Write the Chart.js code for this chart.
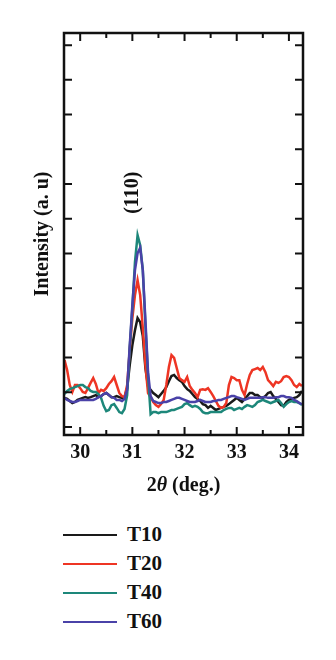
<!DOCTYPE html>
<html>
<head>
<meta charset="utf-8">
<script src="https://cdn.jsdelivr.net/npm/chart.js@4.4.1/dist/chart.umd.min.js"></script>
<style>
  html, body { margin: 0; padding: 0; background: #fff; }
  #wrap { position: relative; width: 336px; height: 660px; }
  #legend { position: absolute; left: 63px; top: 520px; font: bold 21px "Liberation Serif", serif; color: #111; }
  .item { display: flex; align-items: center; height: 29px; }
  .swatch { width: 54px; height: 2px; margin-right: 10px; }
</style>
</head>
<body>
<div id="wrap">
  <canvas id="xrd" width="336" height="505"></canvas>
  <div id="legend"></div>
</div>
<script>
// 2θ positions (deg.)
const angles = [
  29.70, 29.75, 29.80, 29.85, 29.90, 29.95, 30.00, 30.05, 30.10, 30.15,
  30.20, 30.25, 30.30, 30.35, 30.40, 30.45, 30.50, 30.55, 30.60, 30.65,
  30.70, 30.75, 30.80, 30.85, 30.90, 30.95, 31.00, 31.05, 31.10, 31.15,
  31.20, 31.25, 31.30, 31.35, 31.40, 31.45, 31.50, 31.55, 31.60, 31.65,
  31.70, 31.75, 31.80, 31.85, 31.90, 31.95, 32.00, 32.05, 32.10, 32.15,
  32.20, 32.25, 32.30, 32.35, 32.40, 32.45, 32.50, 32.55, 32.60, 32.65,
  32.70, 32.75, 32.80, 32.85, 32.90, 32.95, 33.00, 33.05, 33.10, 33.15,
  33.20, 33.25, 33.30, 33.35, 33.40, 33.45, 33.50, 33.55, 33.60, 33.65,
  33.70, 33.75, 33.80, 33.85, 33.90, 33.95, 34.00, 34.05, 34.10, 34.15,
  34.20, 34.25
];

// intensities (a. u)
const t10 = [
  84, 81, 75, 69, 72, 78, 81, 84, 86, 84,
  86, 89, 92, 86, 89, 95, 98, 92, 86, 86,
  89, 86, 84, 86, 112, 179, 236, 279, 314, 302,
  262, 170, 118, 107, 98, 92, 86, 95, 104, 115,
  132, 147, 150, 141, 135, 130, 118, 109, 104, 95,
  86, 81, 75, 66, 63, 55, 61, 55, 49, 52,
  55, 58, 61, 66, 72, 78, 84, 78, 72, 81,
  89, 98, 98, 92, 92, 86, 84, 89, 98, 101,
  89, 81, 72, 63, 61, 72, 78, 81, 84, 86,
  92, 104
];
const t20 = [
  193, 164, 121, 101, 121, 121, 112, 101, 98, 112,
  127, 141, 124, 98, 107, 104, 112, 124, 132, 144,
  121, 98, 89, 86, 121, 222, 314, 380, 423, 380,
  285, 179, 98, 86, 72, 63, 58, 66, 78, 121,
  173, 207, 199, 170, 141, 135, 130, 144, 118, 107,
  98, 86, 107, 109, 107, 112, 101, 89, 75, 61,
  55, 58, 69, 121, 144, 141, 135, 135, 107, 92,
  124, 150, 164, 167, 170, 164, 173, 158, 135, 127,
  118, 130, 127, 132, 144, 147, 144, 135, 121, 115,
  124, 118
];
const t40 = [
  95, 104, 109, 112, 115, 118, 121, 121, 115, 112,
  104, 101, 101, 95, 84, 61, 46, 49, 63, 66,
  55, 43, 40, 52, 92, 228, 343, 475, 553, 524,
  452, 294, 150, 37, 43, 43, 40, 43, 43, 43,
  46, 49, 49, 52, 55, 58, 66, 69, 63, 58,
  61, 58, 52, 43, 40, 40, 43, 43, 43, 43,
  43, 49, 52, 55, 55, 49, 52, 55, 52, 58,
  63, 61, 58, 63, 72, 75, 78, 75, 72, 69,
  72, 75, 78, 69, 58, 66, 72, 75, 72, 72,
  69, 63
];
const t60 = [
  84, 78, 75, 72, 72, 75, 78, 78, 78, 78,
  78, 78, 81, 86, 89, 95, 98, 92, 86, 84,
  78, 78, 75, 81, 107, 236, 351, 452, 501, 516,
  452, 308, 158, 89, 75, 72, 69, 69, 72, 72,
  75, 78, 81, 84, 84, 81, 78, 75, 72, 72,
  72, 75, 78, 75, 72, 72, 72, 75, 75, 78,
  78, 81, 84, 86, 89, 89, 86, 84, 81, 78,
  81, 84, 84, 84, 84, 84, 86, 86, 84, 84,
  84, 86, 86, 89, 89, 86, 86, 84, 78, 75,
  69, 66
];

const seriesNames = ['T10', 'T20', 'T40', 'T60'];
const xTicks = [30, 31, 32, 33, 34];
const xMinorTicks = [30.5, 31.5, 32.5, 33.5];
const yTicks = [0, 100, 200, 300, 400, 500, 600, 700, 800, 900, 1000, 1100];
const peakLabel = '(110)';
const peakAngle = 31.0;
const peakLevel = 675;

const INK = '#111';
const SERIF = '"Liberation Serif", "DejaVu Serif", serif';
const colors = ['#1a1a1a', '#ee3524', '#1d877a', '#4a42a8'];

const toPoints = vals => vals.map((v, i) => ({ x: angles[i], y: v }));

// frame, inward ticks, x title with italic theta, peak label
const framePlugin = {
  id: 'framePlugin',
  afterDraw(chart) {
    const { ctx, chartArea: area } = chart;
    const xs = chart.scales.x, ys = chart.scales.y;
    ctx.save();
    ctx.strokeStyle = INK;
    ctx.lineWidth = 2;
    ctx.beginPath();
    const xTick = (v, len) => {
      const px = xs.getPixelForValue(v);
      ctx.moveTo(px, area.bottom); ctx.lineTo(px, area.bottom - len);
      ctx.moveTo(px, area.top); ctx.lineTo(px, area.top + len);
    };
    xTicks.forEach(v => xTick(v, 8));
    xMinorTicks.forEach(v => xTick(v, 5));
    yTicks.forEach(v => {
      const py = ys.getPixelForValue(v);
      ctx.moveTo(area.left, py); ctx.lineTo(area.left + 8, py);
      ctx.moveTo(area.right, py); ctx.lineTo(area.right - 8, py);
    });
    ctx.stroke();
    ctx.lineWidth = 2.5;
    ctx.strokeRect(area.left, area.top, area.right - area.left, area.bottom - area.top);

    // x axis title
    const parts = [['2', 'bold'], ['θ', 'italic bold'], [' (deg.)', 'bold']];
    let total = 0;
    parts.forEach(p => { ctx.font = p[1] + ' 20px ' + SERIF; total += ctx.measureText(p[0]).width; });
    let cx = (area.left + area.right) / 2 - total / 2;
    ctx.fillStyle = INK;
    ctx.textBaseline = 'middle';
    ctx.textAlign = 'left';
    parts.forEach(p => {
      ctx.font = p[1] + ' 20px ' + SERIF;
      ctx.fillText(p[0], cx, area.bottom + 51);
      cx += ctx.measureText(p[0]).width;
    });

    // peak label
    ctx.translate(xs.getPixelForValue(peakAngle), ys.getPixelForValue(peakLevel));
    ctx.rotate(-Math.PI / 2);
    ctx.font = 'bold 20px ' + SERIF;
    ctx.textAlign = 'center';
    ctx.fillText(peakLabel, 0, 0);
    ctx.restore();
  }
};

const chart = new Chart(document.getElementById('xrd'), {
  type: 'line',
  data: {
    datasets: [t10, t20, t40, t60].map((vals, i) => ({
      label: seriesNames[i],
      data: toPoints(vals),
      borderColor: colors[i],
      borderWidth: 2.5,
      pointRadius: 0,
      tension: 0,
      fill: false,
      order: 3 - i
    }))
  },
  options: {
    responsive: false,
    animation: false,
    devicePixelRatio: 1,
    layout: { padding: { left: 0, top: 33, right: 33, bottom: 0 } },
    plugins: { legend: { display: false }, tooltip: { enabled: false } },
    scales: {
      x: {
        type: 'linear',
        min: 29.69,
        max: 34.27,
        grid: { display: false, drawTicks: false },
        border: { display: false },
        ticks: {
          color: INK,
          padding: 6,
          includeBounds: false,
          font: { family: SERIF, size: 20, weight: 'bold' }
        },
        afterBuildTicks: scale => { scale.ticks = xTicks.map(v => ({ value: v })); },
        afterFit: scale => { scale.height = 70; }
      },
      y: {
        min: -23,
        max: 1135,
        grid: { display: false, drawTicks: false },
        border: { display: false },
        ticks: { display: false },
        afterBuildTicks: scale => { scale.ticks = yTicks.map(v => ({ value: v })); },
        title: {
          display: true,
          text: 'Intensity (a. u)',
          color: INK,
          padding: { top: 31, bottom: 0 },
          font: { family: SERIF, size: 20, weight: 'bold' }
        },
        afterFit: scale => { scale.width = 64; }
      }
    }
  },
  plugins: [framePlugin]
});

// legend: one entry per line, under the plot
const legend = document.getElementById('legend');
chart.data.datasets.forEach(ds => {
  const row = document.createElement('div');
  row.className = 'item';
  const sw = document.createElement('span');
  sw.className = 'swatch';
  sw.style.background = ds.borderColor;
  const txt = document.createElement('span');
  txt.textContent = ds.label;
  row.appendChild(sw);
  row.appendChild(txt);
  legend.appendChild(row);
});
</script>
</body>
</html>
